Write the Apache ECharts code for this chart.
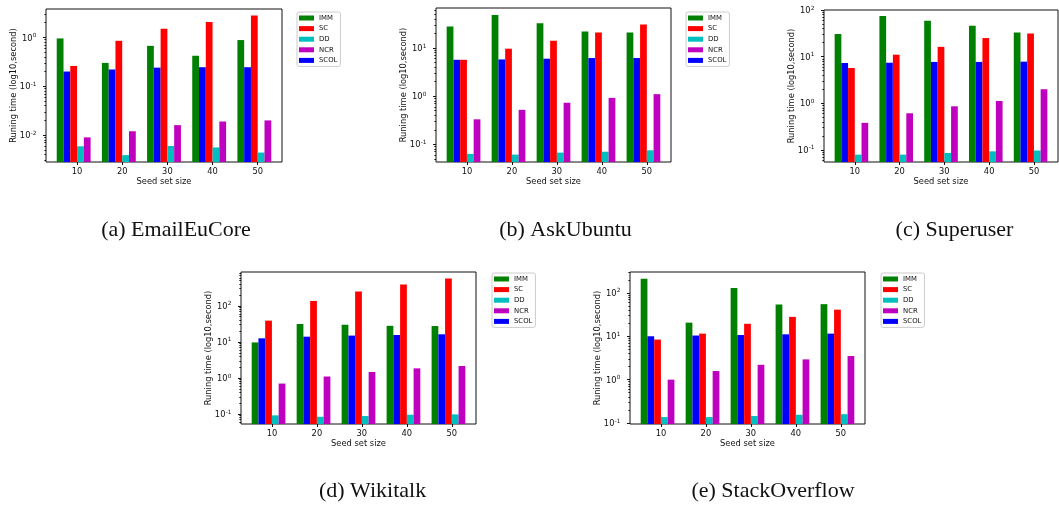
<!DOCTYPE html>
<html>
<head>
<meta charset="utf-8">
<script src="https://cdn.jsdelivr.net/npm/echarts@6/dist/echarts.min.js"></script>
<style>
  html, body { margin: 0; padding: 0; background: #fff; }
  #chart { width: 1059px; height: 505px; }
</style>
</head>
<body>
<div id="chart"></div>
<script>
// Seed set sizes on the x axis
const seedSizes = [10, 20, 30, 40, 50];
// Bar order inside each group, and the order used by the legends
const methodNames = ['IMM', 'SCOL', 'SC', 'DD', 'NCR'];
const legendNames = ['IMM', 'SC', 'DD', 'NCR', 'SCOL'];
const methodColors = ['#008000', '#0000ff', '#ff0000', '#00bfbf', '#bf00bf'];

// Running times in seconds — EmailEuCore
const emailImm  = [0.95, 0.30, 0.67, 0.42, 0.88];
const emailScol = [0.20, 0.22, 0.24, 0.245, 0.245];
const emailSc   = [0.26, 0.85, 1.5, 2.05, 2.8];
const emailDd   = [0.0059, 0.0039, 0.0060, 0.0056, 0.0044];
const emailNcr  = [0.0090, 0.012, 0.016, 0.019, 0.020];

// AskUbuntu
const askImm  = [28, 48.6, 32.6, 22.2, 21];
const askScol = [5.7, 5.8, 6.0, 6.2, 6.2];
const askSc   = [5.7, 9.7, 14.2, 21, 30.7];
const askDd   = [0.063, 0.061, 0.067, 0.070, 0.075];
const askNcr  = [0.33, 0.52, 0.73, 0.92, 1.1];

// Superuser
const superImm  = [30.5, 74, 59, 46, 33];
const superScol = [7.3, 7.4, 7.7, 7.7, 7.8];
const superSc   = [5.7, 11, 16.2, 25, 31.5];
const superDd   = [0.079, 0.079, 0.086, 0.093, 0.097];
const superNcr  = [0.38, 0.61, 0.86, 1.12, 2.0];

// Wikitalk
const wikiImm  = [9.7, 31.4, 30, 28, 27.6];
const wikiScol = [12.6, 14, 15, 15.6, 16.3];
const wikiSc   = [39, 137, 250, 390, 570];
const wikiDd   = [0.092, 0.084, 0.088, 0.096, 0.098];
const wikiNcr  = [0.70, 1.1, 1.47, 1.85, 2.15];

// StackOverflow
const stackImm  = [213, 20.6, 130, 54, 55];
const stackScol = [10, 10.4, 10.7, 11.1, 11.5];
const stackSc   = [8.4, 11.5, 19.4, 28, 41];
const stackDd   = [0.137, 0.137, 0.145, 0.155, 0.16];
const stackNcr  = [1.0, 1.58, 2.2, 2.93, 3.5];

const sansFont = 'DejaVu Sans';
const serifFont = 'Liberation Serif';

const panels = [
  { caption: '(a) EmailEuCore', values: [emailImm, emailScol, emailSc, emailDd, emailNcr],
    yMin: 0.00282, yMax: 3.8, grid: { left: 46, top: 9, width: 236, height: 153 },
    legend: { left: 297, top: 12 }, capX: 176, capY: 230 },
  { caption: '(b) AskUbuntu', values: [askImm, askScol, askSc, askDd, askNcr],
    yMin: 0.0428, yMax: 68, grid: { left: 436, top: 8, width: 235, height: 154 },
    legend: { left: 686, top: 12 }, capX: 565.5, capY: 230 },
  { caption: '(c) Superuser', values: [superImm, superScol, superSc, superDd, superNcr],
    yMin: 0.055, yMax: 100, grid: { left: 824, top: 10, width: 234, height: 152 },
    legend: null, capX: 954.5, capY: 230 },
  { caption: '(d) Wikitalk', values: [wikiImm, wikiScol, wikiSc, wikiDd, wikiNcr],
    yMin: 0.053, yMax: 870, grid: { left: 241, top: 272, width: 235, height: 152 },
    legend: { left: 492, top: 273 }, capX: 372.5, capY: 491.5 },
  { caption: '(e) StackOverflow', values: [stackImm, stackScol, stackSc, stackDd, stackNcr],
    yMin: 0.095, yMax: 303, grid: { left: 630, top: 272, width: 235, height: 152 },
    legend: { left: 881, top: 273 }, capX: 773, capY: 491.5 }
];

// Decade and in-between tick positions for a log axis range
function decadeTicks(lo, hi) {
  const out = [];
  for (let e = Math.floor(Math.log10(lo)); e <= Math.ceil(Math.log10(hi)); e++) {
    const v = Math.pow(10, e);
    if (v >= lo * 0.999 && v <= hi * 1.001) out.push(v);
  }
  return out;
}
function minorTicks(lo, hi) {
  const out = [];
  for (let e = Math.floor(Math.log10(lo)); e <= Math.ceil(Math.log10(hi)); e++) {
    for (let k = 2; k <= 9; k++) {
      const v = k * Math.pow(10, e);
      if (v >= lo && v <= hi) out.push(v);
    }
  }
  return out;
}
function powerLabel(v) {
  const e = Math.round(Math.log10(v));
  return '{b|10}{s|' + String(e) + '}';
}

const grids = [], xAxes = [], yAxes = [], series = [], legends = [], captions = [];

panels.forEach((p, i) => {
  grids.push(Object.assign({
    show: true, borderColor: '#111', borderWidth: 1, backgroundColor: 'transparent'
  }, p.grid));

  xAxes.push({
    type: 'value', gridIndex: i, min: 3.125, max: 55.375,
    axisLine: { show: false }, splitLine: { show: false },
    axisTick: { show: true, customValues: seedSizes, length: 3, lineStyle: { color: '#111' } },
    axisLabel: { customValues: seedSizes, margin: 5.5, fontSize: 8.3, fontFamily: sansFont, color: '#111' },
    name: 'Seed set size', nameLocation: 'middle', nameGap: 16,
    nameTextStyle: { fontSize: 8.3, fontFamily: sansFont, color: '#111' }
  });

  const majors = decadeTicks(p.yMin, p.yMax);
  yAxes.push({
    type: 'log', logBase: 10, gridIndex: i, min: p.yMin, max: p.yMax, startValue: p.yMin,
    axisLine: { show: false }, splitLine: { show: false },
    axisTick: { show: true, customValues: majors, length: 3, lineStyle: { color: '#111' } },
    axisLabel: {
      customValues: majors, margin: 9.5, formatter: powerLabel,
      rich: {
        b: { fontSize: 8.3, fontFamily: sansFont, color: '#111', verticalAlign: 'bottom' },
        s: { fontSize: 5.8, fontFamily: sansFont, color: '#111', verticalAlign: 'bottom',
             padding: [0, 0, 4, 0.3] }
      }
    },
    name: 'Runing time (log10,second)', nameLocation: 'middle', nameGap: 28,
    nameMoveOverlap: false,
    nameTextStyle: { fontSize: 8.3, fontFamily: sansFont, color: '#111' }
  });
  // second axis carrying only the small in-between ticks
  yAxes.push({
    type: 'log', logBase: 10, gridIndex: i, min: p.yMin, max: p.yMax, position: 'left',
    axisLine: { show: false }, splitLine: { show: false }, axisLabel: { show: false },
    axisTick: { show: true, customValues: minorTicks(p.yMin, p.yMax), length: 1.6, lineStyle: { color: '#111' } }
  });

  methodNames.forEach((name, k) => {
    series.push({
      type: 'bar', name: name, xAxisIndex: i, yAxisIndex: i * 2,
      data: seedSizes.map((s, j) => [s, p.values[k][j]]),
      barWidth: '15%', barGap: '0%',
      itemStyle: { color: methodColors[k] },
      emphasis: { disabled: true }
    });
  });
  // empty slot so each group sits left of its tick
  series.push({
    type: 'bar', name: '', xAxisIndex: i, yAxisIndex: i * 2, data: [],
    barWidth: '15%', barGap: '0%'
  });

  if (p.legend) {
    legends.push({
      orient: 'vertical', left: p.legend.left, top: p.legend.top,
      data: legendNames, icon: 'rect', itemWidth: 15, itemHeight: 5, itemGap: 2.6,
      padding: [2, 3, 2, 2], borderColor: '#cccccc', borderWidth: 1, borderRadius: 2,
      backgroundColor: '#fff', selectedMode: false,
      textStyle: { fontSize: 6.9, fontFamily: sansFont, color: '#111', lineHeight: 8 }
    });
  }

  captions.push({
    type: 'text', x: p.capX, y: p.capY,
    style: { text: p.caption, fontSize: 22, fontFamily: serifFont, fill: '#111',
             align: 'center', verticalAlign: 'middle' }
  });
});

const chart = echarts.init(document.getElementById('chart'), null, { renderer: 'canvas' });
chart.setOption({
  animation: false,
  backgroundColor: '#fff',
  grid: grids,
  xAxis: xAxes,
  yAxis: yAxes,
  legend: legends,
  series: series,
  graphic: { elements: captions }
});
</script>
</body>
</html>
